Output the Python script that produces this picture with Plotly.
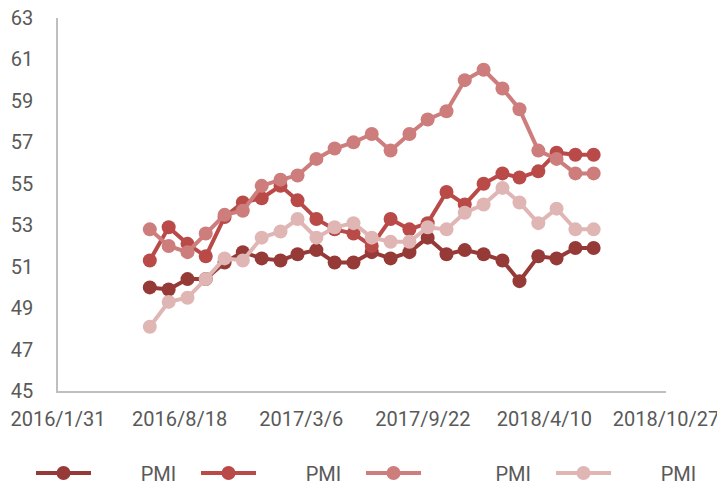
import plotly.graph_objects as go
import pandas as pd

dates = pd.date_range("2016-06-30", "2018-06-30", freq="ME").strftime("%Y-%m-%d").tolist()

NB = "\u00a0"
series_names = [NB * 9 + "PMI", NB * 9 + "PMI", NB * 14 + "PMI", NB * 9 + "PMI"]

s1 = [50.0, 49.9, 50.4, 50.4, 51.2, 51.7, 51.4, 51.3, 51.6, 51.8, 51.2, 51.2, 51.7,
      51.4, 51.7, 52.4, 51.6, 51.8, 51.6, 51.3, 50.3, 51.5, 51.4, 51.9, 51.9]
s2 = [51.3, 52.9, 52.1, 51.5, 53.4, 54.1, 54.3, 54.9, 54.2, 53.3, 52.8, 52.6, 52.0,
      53.3, 52.8, 53.1, 54.6, 54.0, 55.0, 55.5, 55.3, 55.6, 56.5, 56.4, 56.4]
s3 = [52.8, 52.0, 51.7, 52.6, 53.5, 53.7, 54.9, 55.2, 55.4, 56.2, 56.7, 57.0, 57.4,
      56.6, 57.4, 58.1, 58.5, 60.0, 60.5, 59.6, 58.6, 56.6, 56.2, 55.5, 55.5]
s4 = [48.1, 49.3, 49.5, 50.4, 51.4, 51.3, 52.4, 52.7, 53.3, 52.4, 52.9, 53.1, 52.4,
      52.2, 52.2, 52.9, 52.8, 53.6, 54.0, 54.8, 54.1, 53.1, 53.8, 52.8, 52.8]

colors = ["#963A38", "#B94A48", "#CD7D7C", "#E0B6B5"]

x_ticks = ["2016-01-31", "2016-08-18", "2017-03-06", "2017-09-22", "2018-04-10", "2018-10-27"]
x_tick_labels = ["2016/1/31", "2016/8/18", "2017/3/6", "2017/9/22", "2018/4/10", "2018/10/27"]
y_ticks = list(range(45, 64, 2))

legend_ids = ["legend", "legend2", "legend3", "legend4"]
legend_x = [-0.0444, 0.2270, 0.4984, 0.8109]

fig = go.Figure()
for name, vals, col, lg in zip(series_names, [s1, s2, s3, s4], colors, legend_ids):
    fig.add_trace(go.Scatter(
        x=dates, y=vals, name=name, mode="lines+markers",
        line=dict(color=col, width=4),
        marker=dict(color=col, size=14),
        legend=lg,
    ))

font_family = "Roboto, sans-serif"
legend_common = dict(orientation="h", y=-0.22, xanchor="left", yanchor="middle",
                     itemwidth=55, font=dict(size=20, color="#595959"),
                     itemclick=False, bgcolor="rgba(0,0,0,0)")
legends = {lg: dict(x=lx, **legend_common) for lg, lx in zip(legend_ids, legend_x)}

fig.update_layout(
    width=717, height=482,
    margin=dict(l=50, r=59, t=10, b=99, autoexpand=False),
    plot_bgcolor="white", paper_bgcolor="white",
    font=dict(family=font_family, size=20, color="#595959"),
    showlegend=True,
    **legends,
    xaxis=dict(
        type="date", range=["2016-01-31", "2018-10-27"],
        tickvals=x_ticks, ticktext=x_tick_labels,
        showgrid=False, zeroline=False, automargin=False,
        showline=True, linecolor="#BFBFBF", linewidth=1.5,
        ticks="", ticklabelstandoff=9, ticklabeloverflow="allow",
    ),
    yaxis=dict(
        range=[45, 63], tickvals=y_ticks,
        showgrid=False, zeroline=False, automargin=False,
        showline=True, linecolor="#BFBFBF", linewidth=1.5,
        ticks="", ticklabelstandoff=19, ticklabeloverflow="allow",
    ),
)

fig.write_html("out.html")
